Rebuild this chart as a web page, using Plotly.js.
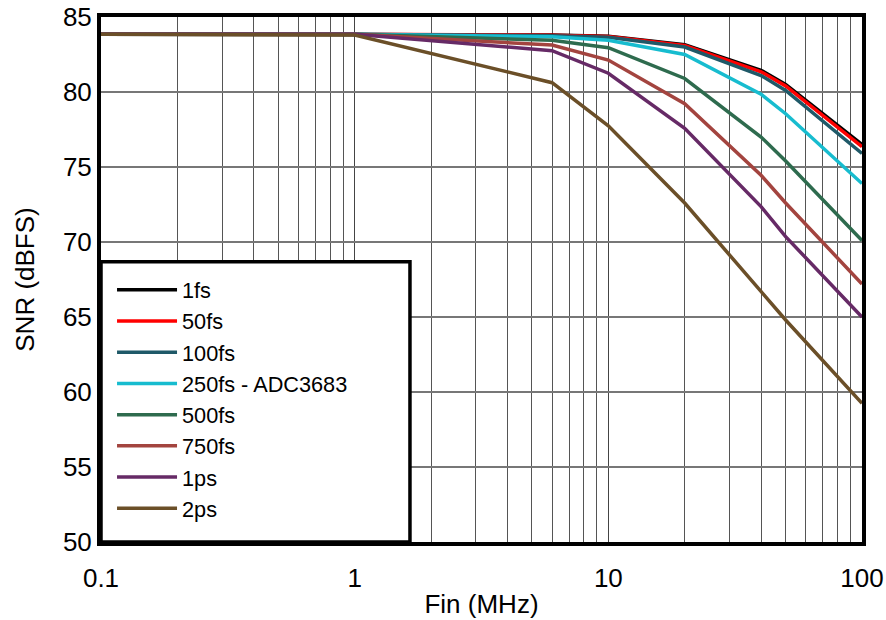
<!DOCTYPE html>
<html>
<head>
<meta charset="utf-8">
<script src="https://cdn.plot.ly/plotly-3.0.1.min.js"></script>
<style>html,body{margin:0;padding:0;background:#fff;}#chart{width:886px;height:620px;}</style>
</head>
<body>
<div id="chart"></div>
<script>
// Input frequency (MHz)
const fin = [0.1, 1, 6, 10, 20, 40, 50, 100];

// SNR (dBFS) per clock jitter
const snr_1fs   = [83.85, 83.85, 83.80, 83.72, 83.15, 81.45, 80.50, 76.50];
const snr_50fs  = [83.85, 83.85, 83.78, 83.70, 83.10, 81.35, 80.40, 76.35];
const snr_100fs = [83.85, 83.85, 83.75, 83.65, 83.00, 81.10, 80.10, 75.90];
const snr_250fs = [83.85, 83.85, 83.68, 83.45, 82.50, 79.85, 78.55, 73.90];
const snr_500fs = [83.85, 83.85, 83.45, 82.95, 80.90, 77.00, 75.40, 70.10];
const snr_750fs = [83.85, 83.85, 83.13, 82.13, 79.22, 74.45, 72.60, 67.20];
const snr_1ps   = [83.85, 83.85, 82.75, 81.25, 77.58, 72.36, 70.36, 65.00];
const snr_2ps   = [83.85, 83.80, 80.62, 77.75, 72.60, 66.70, 64.80, 59.25];

const names  = ["1fs", "50fs", "100fs", "250fs - ADC3683", "500fs", "750fs", "1ps", "2ps"];
const series = [snr_1fs, snr_50fs, snr_100fs, snr_250fs, snr_500fs, snr_750fs, snr_1ps, snr_2ps];
const colors = ["#000000", "#ff0000", "#1f5968", "#17bccf", "#2e6b4e", "#a3443f", "#662a66", "#6b4f28"];

const xTicks = [0.1, 1, 10, 100];
const xTickText = ["0.1", "1", "10", "100"];
const yTicks = [50, 55, 60, 65, 70, 75, 80, 85];

const traces = series.map((s, i) => ({
  x: fin, y: s, name: names[i], type: "scatter", mode: "lines",
  line: {color: colors[i], width: 3.5}
}));

const FONT = "Liberation Sans, Arial, sans-serif";

const layout = {
  width: 886, height: 620,
  margin: {l: 101, r: 24, t: 17, b: 78},
  paper_bgcolor: "#fff", plot_bgcolor: "#fff",
  font: {family: FONT, size: 26, color: "#000"},
  showlegend: true,
  legend: {
    x: 0.0145, y: 0.272, xanchor: "left", yanchor: "middle",
    bgcolor: "rgba(0,0,0,0)", borderwidth: 0,
    font: {family: FONT, size: 21.7, color: "#000"},
    traceorder: "normal",
    itemwidth: 60
  },
  xaxis: {
    type: "log", range: [-1, 2],
    tickvals: xTicks, ticktext: xTickText,
    showgrid: true, gridcolor: "#444", gridwidth: 1,
    minor: {dtick: "D1", showgrid: true, gridcolor: "#555", gridwidth: 1, ticks: ""},
    showline: true, linecolor: "#000", linewidth: 4, mirror: true,
    ticks: "", zeroline: false, ticklabelstandoff: 10,
    tickfont: {family: FONT, size: 26, color: "#000"},
    title: {text: "Fin (MHz)", font: {family: FONT, size: 26, color: "#000"}, standoff: 4}
  },
  yaxis: {
    range: [50, 85], tickvals: yTicks,
    showgrid: true, gridcolor: "#777", gridwidth: 1.5,
    showline: true, linecolor: "#000", linewidth: 4, mirror: true,
    ticks: "", zeroline: false,
    tickfont: {family: FONT, size: 26, color: "#000"},
    title: {text: "SNR (dBFS)", font: {family: FONT, size: 26, color: "#000"}, standoff: 22}
  },
  shapes: [{
    type: "rect", xref: "paper", yref: "paper",
    x0: 0, x1: 0.406, y0: 0, y1: 0.534,
    fillcolor: "#fff", line: {color: "#000", width: 3.5}, layer: "above"
  }]
};

Plotly.newPlot("chart", traces, layout, {displayModeBar: false, staticPlot: true});
</script>
</body>
</html>
